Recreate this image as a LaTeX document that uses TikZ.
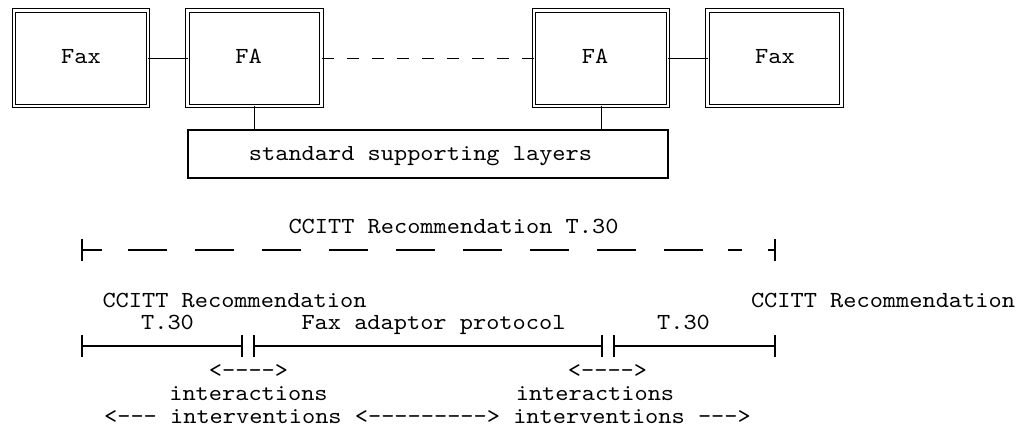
\documentclass[tikz,border=0pt]{standalone}
\usepackage{fontspec}
\newfontfamily\cour{lmmono10-regular.otf}[FakeStretch=1.093]
\begin{document}
\begin{tikzpicture}[x=1pt,y=-1pt,
  txt/.style={font=\cour\fontsize{23}{25}\selectfont, inner sep=0pt, anchor=base},
  dbox/.style={draw, double, double distance=2.3pt, line width=1pt, minimum width=134pt, minimum height=95.3pt, inner sep=0pt, outer sep=0pt},
  sbox/.style={draw, line width=1.2pt, minimum width=480pt, minimum height=48pt, inner sep=0pt, outer sep=0pt},
  wire/.style={line width=1.3pt},
  dwire/.style={line width=1.3pt, dash pattern=on 12.51pt off 12.51pt}
]
\useasboundingbox (0,0) rectangle (1029,428);

% top boxes
\node[dbox] (fax1) at (81.2,58.25) {};
\node[dbox] (fa1) at (254.5,58.25) {};
\node[dbox] (fa2) at (601.3,58.25) {};
\node[dbox] (fax2) at (774.5,58.25) {};
\node[txt] (tfax1) at (81,64) {Fax};
\node[txt] (tfa1) at (248.5,64) {FA};
\node[txt] (tfa2) at (595,64) {FA};
\node[txt] (tfax2) at (775,64) {Fax};

\draw[wire] (fax1.east) -- (fa1.west);
\draw[dwire] (fa1.east) -- (fa2.west);
\draw[wire] (fa2.east) -- (fax2.west);

\node[sbox] (layers) at (428,154) {};
\node[txt] (tlayers) at (420.5,160) {standard supporting layers};
\draw[wire] (fa1.south) -- (fa1.south |- layers.north);
\draw[wire] (fa2.south) -- (fa2.south |- layers.north);

% header ruler
\node[txt] (hdr) at (453.5,233) {CCITT Recommendation T.30};
\coordinate (ha) at (82,250);
\coordinate (hb) at (775,250);
\draw[wire] ([yshift=-11pt]ha) -- ([yshift=11pt]ha);
\draw[wire] (ha) -- (102,250);
\foreach \i in {0,...,8} \draw[wire] ({128+67*\i},250) -- ({167+67*\i},250);
\draw[wire] (728,250) -- (742,250);
\draw[wire] (768,250) -- (hb);
\draw[wire] ([yshift=-11pt]hb) -- ([yshift=11pt]hb);

% lower labels
\node[txt] (rec1) at (234.5,307) {CCITT Recommendation};
\node[txt] (rec2) at (883,307) {CCITT Recommendation};
\node[txt] (t30a) at (167.5,329) {T.30};
\node[txt] (fap) at (433.5,329) {Fax adaptor protocol};
\node[txt] (t30b) at (683.5,329) {T.30};

% lower ruler
\foreach \a/\b in {82/242, 254/602, 614/775}{
  \draw[wire] (\a,346) -- (\b,346);
  \draw[wire] (\a,335) -- (\a,357);
  \draw[wire] (\b,335) -- (\b,357);
}

\node[txt] (arr1) at (248.5,377) {<---->};
\node[txt] (arr2) at (607.5,377) {<---->};
\node[txt] (int1) at (248.5,400) {interactions};
\node[txt] (int2) at (595,400) {interactions};
\node[txt] (intv) at (427.5,423) {<--- interventions <---------> interventions --->};
\end{tikzpicture}
\end{document}
